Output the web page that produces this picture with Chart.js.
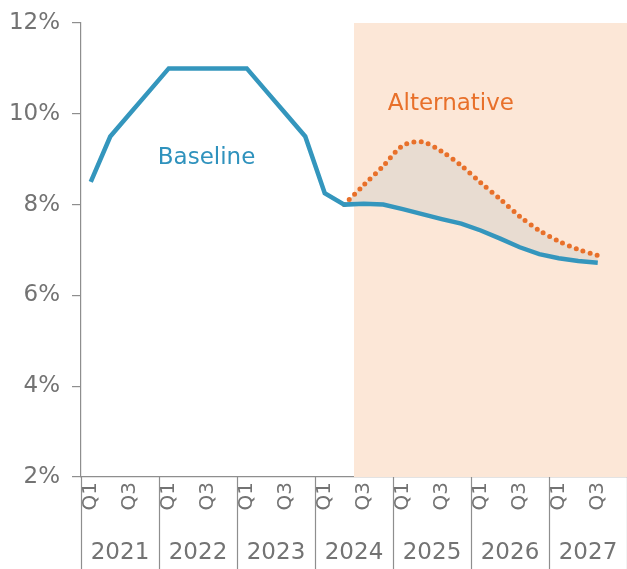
<!DOCTYPE html>
<html>
<head>
<meta charset="utf-8">
<script src="https://cdn.jsdelivr.net/npm/chart.js@4"></script>
<style>
  html, body { margin: 0; padding: 0; background: #fff; }
  #wrap { width: 627px; height: 569px; }
</style>
</head>
<body>
<div id="wrap"><canvas id="chart" width="627" height="569"></canvas></div>
<script>
// data
const years = ['2021', '2022', '2023', '2024', '2025', '2026', '2027'];
const quarters = ['Q1', 'Q2', 'Q3', 'Q4'];
const baseline = [8.5, 9.5, 10.0, 10.5, 11.0, 11.0, 11.0, 11.0, 11.0, 10.5, 10.0, 9.5,
  8.25, 8.0, 8.02, 8.0, 7.9, 7.79, 7.68, 7.58, 7.43, 7.25, 7.06, 6.91, 6.82, 6.76, 6.72, null];
const alternative = [null, null, null, null, null, null, null, null, null, null, null, null,
  null, 8.0, 8.43, 8.85, 9.3, 9.38, 9.17, 8.86, 8.48, 8.12, 7.74, 7.43, 7.19, 7.01, 6.88, null];
const yTicks = [2, 4, 6, 8, 10, 12];

const labels = [];
years.forEach(y => quarters.forEach(q => labels.push(q + ' ' + y)));

const gray = '#737373';
const axisGray = '#8e8e8e';
const font = 'DejaVu Sans';

// shaded forecast area + year row under the quarter labels
const extras = {
  id: 'extras',
  beforeDatasetsDraw(chart) {
    const { ctx, chartArea, scales } = chart;
    const x0 = scales.x.getPixelForValue(13.5);
    ctx.save();
    ctx.fillStyle = '#fce7d7';
    ctx.fillRect(x0, chartArea.top, chartArea.right - x0, chartArea.bottom - chartArea.top);
    ctx.restore();
  },
  afterDraw(chart) {
    const { ctx, chartArea, scales } = chart;
    const x = scales.x, y = scales.y;
    ctx.save();
    ctx.strokeStyle = axisGray;
    ctx.lineWidth = 1.2;
    for (let k = 0; k <= years.length; k++) {
      const px = Math.round(x.getPixelForValue(k * 4 - 0.5)) + 0.5;
      ctx.beginPath();
      ctx.moveTo(px, chartArea.bottom);
      ctx.lineTo(px, chart.height);
      ctx.stroke();
    }
    ctx.fillStyle = gray;
    ctx.font = '23px "' + font + '"';
    ctx.textAlign = 'center';
    ctx.textBaseline = 'middle';
    years.forEach((yr, k) => {
      const cx = (x.getPixelForValue(k * 4 - 0.5) + x.getPixelForValue(k * 4 + 3.5)) / 2;
      ctx.fillText(yr, cx, 553);
    });

    // series labels
    ctx.font = '23px "' + font + '"';
    ctx.fillStyle = '#2f92bd';
    ctx.fillText('Baseline', x.getPixelForValue(5.94), y.getPixelForValue(9.02));
    ctx.fillStyle = '#e8702a';
    ctx.fillText('Alternative', x.getPixelForValue(18.47), y.getPixelForValue(10.22));
    ctx.restore();
  }
};

new Chart(document.getElementById('chart'), {
  type: 'line',
  data: {
    labels: labels,
    datasets: [
      {
        label: 'Baseline',
        data: baseline,
        borderColor: '#3496bd',
        borderWidth: 4.5,
        pointRadius: 0,
        tension: 0,
        fill: false,
        order: 1
      },
      {
        label: 'Alternative',
        data: alternative,
        borderColor: '#e8702a',
        borderWidth: 5,
        borderDash: [0, 7.3],
        borderCapStyle: 'round',
        pointRadius: 0,
        tension: 0.3,
        fill: { target: 0 },
        backgroundColor: '#e8dcd1',
        order: 2
      }
    ]
  },
  plugins: [extras],
  options: {
    responsive: false,
    animation: false,
    layout: { padding: { top: 23, right: 0, left: 0, bottom: 0 } },
    plugins: {
      legend: { display: false },
      tooltip: { enabled: false }
    },
    scales: {
      x: {
        offset: true,
        grid: { display: false, drawTicks: false },
        border: { display: true, color: axisGray, width: 1.2 },
        ticks: {
          autoSkip: false,
          minRotation: 90,
          maxRotation: 90,
          padding: 5,
          color: gray,
          font: { family: font, size: 20 },
          callback: function(value, index) {
            const q = index % 4;
            return q === 0 ? 'Q1' : (q === 2 ? 'Q3' : '');
          }
        },
        afterFit: function(scale) {
          scale.height = 92;
          scale.paddingLeft = 0;
          scale.paddingRight = 0;
        }
      },
      y: {
        min: 2,
        max: 12,
        afterBuildTicks: function(scale) { scale.ticks = yTicks.map(v => ({ value: v })); },
        grid: { drawOnChartArea: false, tickLength: 9, color: axisGray, lineWidth: 1.2 },
        border: { display: true, color: axisGray, width: 1.2 },
        ticks: {
          padding: 12,
          color: gray,
          font: { family: font, size: 23 },
          callback: function(value) { return value + '%'; }
        },
        afterFit: function(scale) {
          scale.width = 81;
          scale.paddingTop = 0;
          scale.paddingBottom = 0;
        }
      }
    }
  }
});
</script>
</body>
</html>
